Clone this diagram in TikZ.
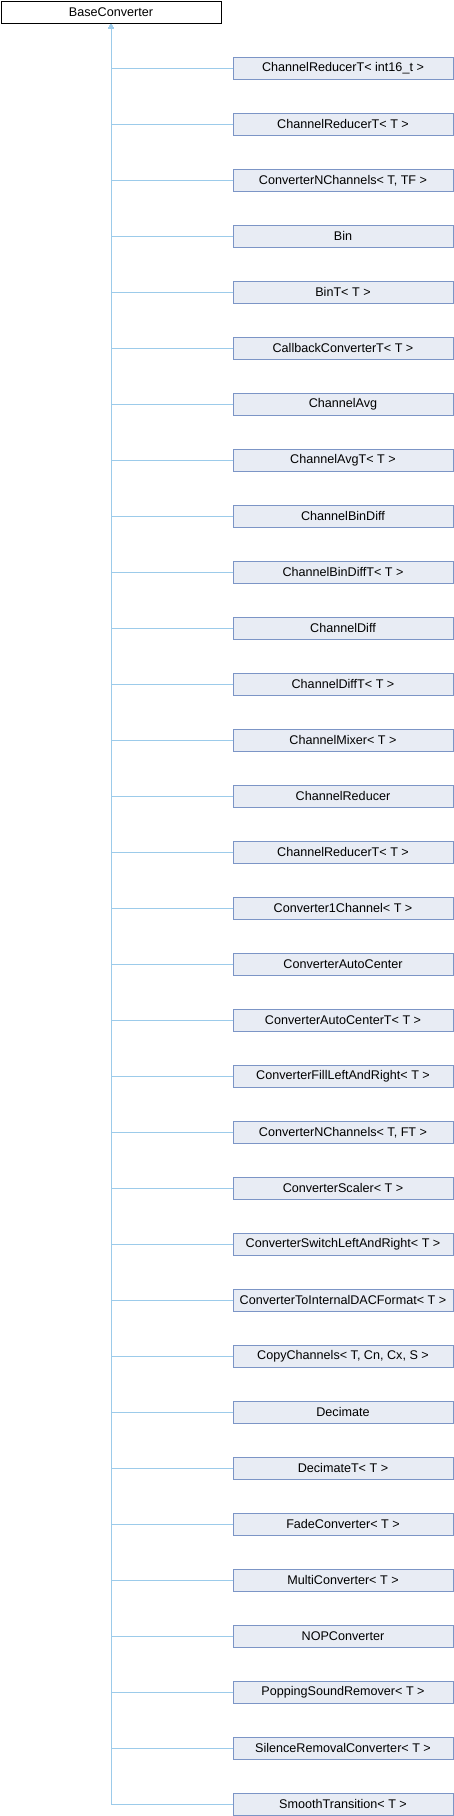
\documentclass[tikz,border=0pt]{standalone}
\usepackage{fontspec}
\setmainfont{Liberation Sans}
\usetikzlibrary{arrows.meta}
\definecolor{boxfill}{HTML}{E8ECF4}
\definecolor{boxdraw}{HTML}{7C95C6}
\definecolor{edgecol}{HTML}{9CCBEA}
\tikzset{
  basebox/.style={draw=black, fill=white, line width=1pt, minimum width=220pt, minimum height=22.5pt, inner sep=0pt, anchor=north west, font=\fontsize{12.6}{14}\selectfont},
  childbox/.style={draw=boxdraw, fill=boxfill, line width=1pt, minimum width=220pt, minimum height=22.5pt, inner sep=0pt, anchor=north west, font=\fontsize{12.6}{14}\selectfont},
  inh/.style={draw=edgecol, line width=1pt, -{Triangle[width=5pt,length=4.5pt,fill=edgecol]}}
}
\begin{document}
\begin{tikzpicture}[x=1pt,y=-1pt]
\useasboundingbox (0,0) rectangle (454,1816);
\node[basebox] (base) at (0.5,0.5) {BaseConverter};
\foreach \i/\t in {
 1/{ChannelReducerT< int16\_t >},
 2/{ChannelReducerT< T >},
 3/{ConverterNChannels< T, TF >},
 4/{Bin},
 5/{BinT< T >},
 6/{CallbackConverterT< T >},
 7/{ChannelAvg},
 8/{ChannelAvgT< T >},
 9/{ChannelBinDiff},
 10/{ChannelBinDiffT< T >},
 11/{ChannelDiff},
 12/{ChannelDiffT< T >},
 13/{ChannelMixer< T >},
 14/{ChannelReducer},
 15/{ChannelReducerT< T >},
 16/{Converter1Channel< T >},
 17/{ConverterAutoCenter},
 18/{ConverterAutoCenterT< T >},
 19/{ConverterFillLeftAndRight< T >},
 20/{ConverterNChannels< T, FT >},
 21/{ConverterScaler< T >},
 22/{ConverterSwitchLeftAndRight< T >},
 23/{ConverterToInternalDACFormat< T >},
 24/{CopyChannels< T, Cn, Cx, S >},
 25/{Decimate},
 26/{DecimateT< T >},
 27/{FadeConverter< T >},
 28/{MultiConverter< T >},
 29/{NOPConverter},
 30/{PoppingSoundRemover< T >},
 31/{SilenceRemovalConverter< T >},
 32/{SmoothTransition< T >}}
{
  \node[childbox] (c\i) at (232.5,{56*\i+0.5}) {\t};
  \draw[inh] (c\i.west) -| (base.south);
}
\end{tikzpicture}
\end{document}
